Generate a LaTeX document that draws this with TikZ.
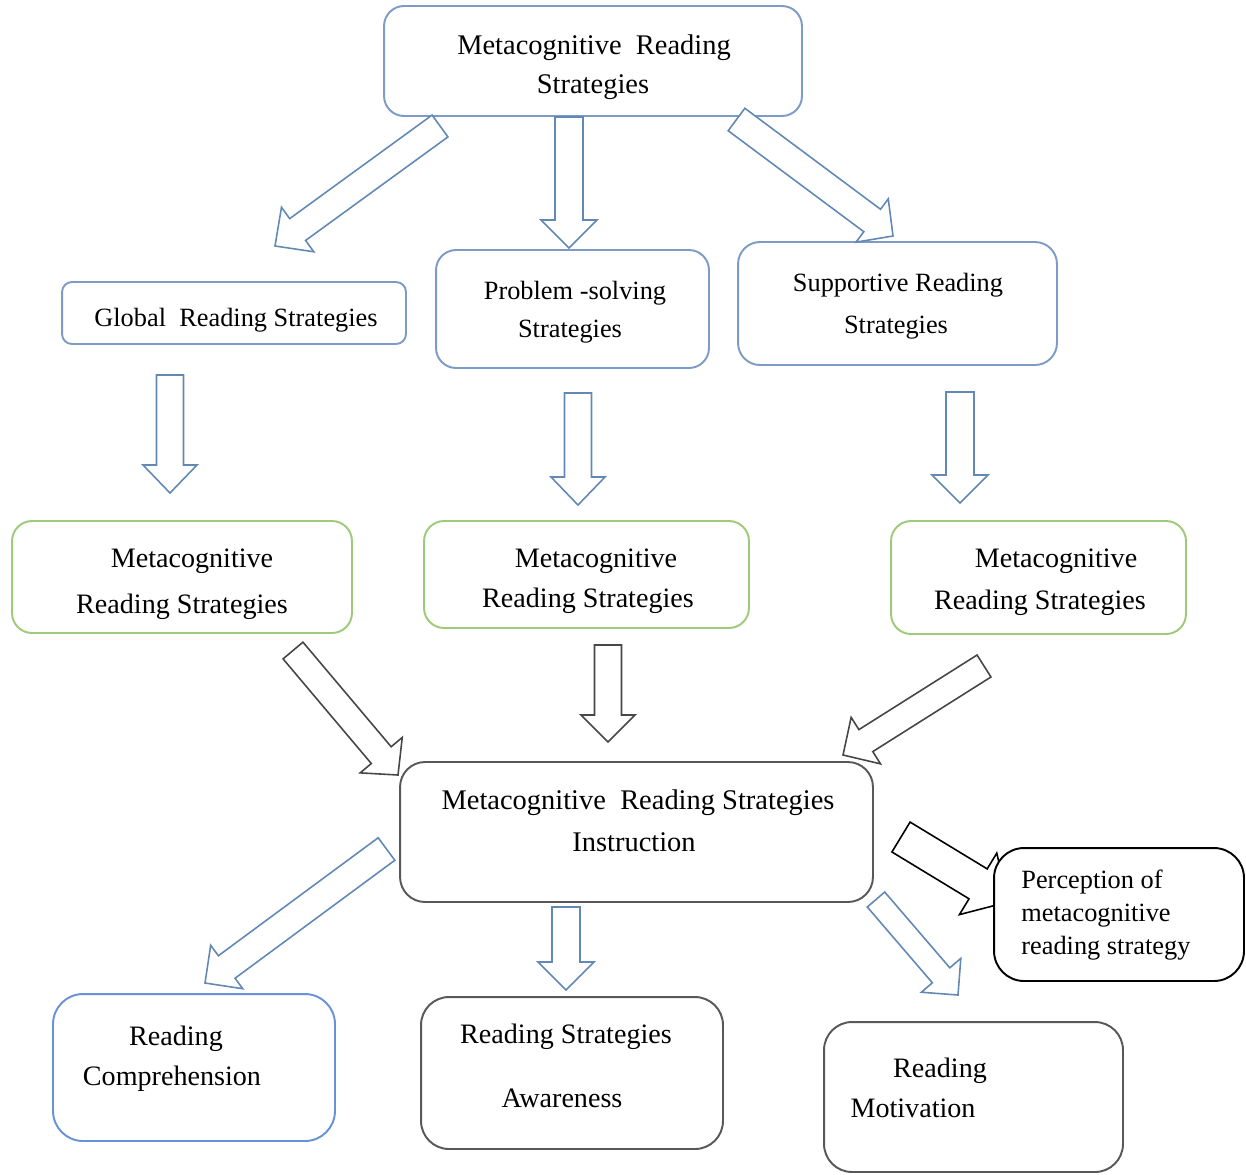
\documentclass[tikz,border=0pt]{standalone}
\usepackage{fontspec}
\setmainfont{Liberation Serif}
\usetikzlibrary{calc}
\definecolor{bxblue}{RGB}{125,155,198}
\definecolor{arblue}{RGB}{98,136,180}
\definecolor{brblue}{RGB}{105,145,215}
\definecolor{bxgreen}{RGB}{158,202,122}
\definecolor{bxgray}{RGB}{88,88,88}
\definecolor{argray}{RGB}{70,70,70}
\tikzset{
  box/.style={draw, line width=1.1pt, fill=white, inner sep=0pt},
  txt/.style={inner sep=0pt, text height=0.72em, text depth=0.22em, yshift=-0.06cm},
  ftop/.style={font=\fontsize{16.2}{20}\selectfont},
  fmid/.style={font=\fontsize{15}{18}\selectfont},
  fgrn/.style={font=\fontsize{16}{19}\selectfont},
  blockar/.style={line width=0.9pt, fill=white, line join=miter},
}
\newcommand\blockarrow[6][]{%
  \coordinate (ba-h) at ($(#3)!#6!(#2)$);
  \draw[blockar,#1] ($(#2)!#4!90:(#3)$) -- ($(ba-h)!#4!90:(#3)$) -- ($(ba-h)!#5!90:(#3)$)
    -- (#3) -- ($(ba-h)!#5!-90:(#3)$) -- ($(ba-h)!#4!-90:(#3)$) -- ($(#2)!#4!-90:(#3)$) -- cycle;
}
\begin{document}
\begin{tikzpicture}[x=0.02cm, y=-0.02cm]
\useasboundingbox (0,0) rectangle (1246,1174);
% boxes
\node[box, draw=bxblue, rounded corners=0.4cm, minimum width=8.36cm, minimum height=2.2cm] (top) at (593,61) {};
\node[box, draw=bxblue, rounded corners=0.2cm, minimum width=6.88cm, minimum height=1.24cm] (glob) at (234,313) {};
\node[box, draw=bxblue, rounded corners=0.4cm, minimum width=5.46cm, minimum height=2.36cm] (prob) at (572.5,309) {};
\node[box, draw=bxblue, rounded corners=0.44cm, minimum width=6.38cm, minimum height=2.46cm] (supp) at (897.5,303.5) {};
\node[box, draw=bxgreen, rounded corners=0.4cm, minimum width=6.8cm, minimum height=2.24cm] (g1) at (182,577) {};
\node[box, draw=bxgreen, rounded corners=0.4cm, minimum width=6.5cm, minimum height=2.14cm] (g2) at (586.5,574.5) {};
\node[box, draw=bxgreen, rounded corners=0.4cm, minimum width=5.9cm, minimum height=2.26cm] (g3) at (1038.5,577.5) {};
\node[box, draw=bxgray, rounded corners=0.5cm, minimum width=9.46cm, minimum height=2.8cm] (inst) at (636.5,832) {};
\node[box, draw=brblue, rounded corners=0.6cm, minimum width=5.64cm, minimum height=2.94cm] (comp) at (194,1067.5) {};
\node[box, draw=bxgray, rounded corners=0.56cm, minimum width=6.04cm, minimum height=3.04cm] (aware) at (572,1073) {};
\node[box, draw=bxgray, rounded corners=0.56cm, minimum width=5.98cm, minimum height=3.0cm] (motiv) at (973.5,1097) {};

% texts
\node[txt, ftop] (top-a) at (594,47) {Metacognitive\ \ Reading};
\node[txt, ftop] (top-b) at (593,86) {Strategies};
\node[txt, fmid] (glob-a) at (236,319) {Global\ \ Reading Strategies};
\node[txt, fmid] (prob-a) at (575,292) {Problem -solving};
\node[txt, fmid] (prob-b) at (570,330) {Strategies};
\node[txt, fmid] (supp-a) at (898,284) {Supportive Reading};
\node[txt, fmid] (supp-b) at (896,326) {Strategies};
\node[txt, fgrn] (g1-a) at (192,560) {Metacognitive};
\node[txt, fgrn] (g1-b) at (182,606) {Reading Strategies};
\node[txt, fgrn] (g2-a) at (596,560) {Metacognitive};
\node[txt, fgrn] (g2-b) at (588,600) {Reading Strategies};
\node[txt, fgrn] (g3-a) at (1056,560) {Metacognitive};
\node[txt, fgrn] (g3-b) at (1040,602) {Reading Strategies};
\node[txt, ftop] (inst-a) at (638,802) {Metacognitive\ \ Reading Strategies};
\node[txt, ftop] (inst-b) at (634,844) {Instruction};
\node[txt, fgrn] (comp-a) at (176,1038) {Reading};
\node[txt, fgrn] (comp-b) at (172,1078) {Comprehension};
\node[txt, fgrn] (aware-a) at (566,1036) {Reading Strategies};
\node[txt, fgrn] (aware-b) at (562,1100) {Awareness};
\node[txt, fgrn] (motiv-a) at (940,1070) {Reading};
\node[txt, fgrn] (motiv-b) at (913,1110) {Motivation};

% arrow end points
\coordinate (a1t) at (440,126);   \coordinate (a1h) at (275,246);
\coordinate (a2t) at (569,117);   \coordinate (a2h) at (569,248);
\coordinate (a3t) at (736.5,119.5); \coordinate (a3h) at (893,236);
\coordinate (b1t) at (170,375);   \coordinate (b1h) at (170,493);
\coordinate (b2t) at (578,393);   \coordinate (b2h) at (578,505);
\coordinate (b3t) at (960,392);   \coordinate (b3h) at (960,503);
\coordinate (c1t) at (293,650.5); \coordinate (c1h) at (398,775);
\coordinate (c2t) at (608,645);   \coordinate (c2h) at (608,742);
\coordinate (c3t) at (984,666);   \coordinate (c3h) at (843,755);
\coordinate (d1t) at (386.5,849); \coordinate (d1h) at (205,983);
\coordinate (d2t) at (566,907);   \coordinate (d2h) at (566,990);
\coordinate (d3t) at (876,899.5); \coordinate (d3h) at (958,995);
\coordinate (et) at (901,837);    \coordinate (eh) at (1008,902);

\blockarrow[draw=arblue]{a1t}{a1h}{0.27cm}{0.55cm}{0.56cm}
\blockarrow[draw=arblue]{a2t}{a2h}{0.28cm}{0.56cm}{0.56cm}
\blockarrow[draw=arblue]{a3t}{a3h}{0.28cm}{0.54cm}{0.52cm}
\blockarrow[draw=arblue]{b1t}{b1h}{0.27cm}{0.54cm}{0.56cm}
\blockarrow[draw=arblue]{b2t}{b2h}{0.27cm}{0.54cm}{0.56cm}
\blockarrow[draw=arblue]{b3t}{b3h}{0.28cm}{0.56cm}{0.56cm}
\blockarrow[draw=argray]{c1t}{c1h}{0.26cm}{0.55cm}{0.52cm}
\blockarrow[draw=argray]{c2t}{c2h}{0.27cm}{0.54cm}{0.54cm}
\blockarrow[draw=argray]{c3t}{c3h}{0.26cm}{0.55cm}{0.54cm}
\blockarrow[draw=arblue]{d1t}{d1h}{0.28cm}{0.54cm}{0.54cm}
\blockarrow[draw=arblue]{d2t}{d2h}{0.28cm}{0.56cm}{0.56cm}
\blockarrow[draw=arblue]{d3t}{d3h}{0.23cm}{0.52cm}{0.52cm}
\blockarrow[draw=black]{et}{eh}{0.35cm}{0.72cm}{0.7cm}

% callout
\node[box, draw=black, rounded corners=0.6cm, minimum width=5.0cm, minimum height=2.66cm] (call) at (1119,914.5) {};
\node[inner sep=0pt, anchor=west, align=left, font=\fontsize{15}{18.7}\selectfont] (call-t) at (1021,915) {Perception of\\metacognitive\\reading strategy};
\end{tikzpicture}
\end{document}
